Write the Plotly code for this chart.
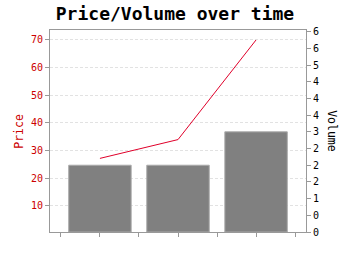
import plotly.graph_objects as go

# Data
categories = [1, 2, 3]
price = [27.2, 34.0, 70.0]
volume = [2, 2, 3]
price_ticks = [10, 20, 30, 40, 50, 60, 70]
volume_tickvals = [0, 0.5, 1, 1.5, 2, 2.5, 3, 3.5, 4, 4.5, 5, 5.5, 6]
volume_ticktext = [str(round(v)) for v in volume_tickvals]
x_tickvals = [0.5, 1, 1.5, 2, 2.5, 3, 3.5]

MONO = "DejaVu Sans Mono"
RED = "#cc0000"

fig = go.Figure()
fig.add_trace(go.Bar(
    x=categories, y=volume, yaxis="y2", width=0.8,
    marker=dict(color="#808080", line=dict(color="#aaaaaa", width=1)),
    showlegend=False, hoverinfo="skip",
))
fig.add_trace(go.Scatter(
    x=categories, y=price, yaxis="y", mode="lines",
    line=dict(color="#e0002a", width=1),
    showlegend=False, hoverinfo="skip",
))

fig.update_layout(
    width=350, height=255,
    margin=dict(l=50, r=44, t=30, b=23),
    paper_bgcolor="white", plot_bgcolor="white",
    font=dict(family=MONO, size=10, color="black"),
    title=dict(text="<b>Price/Volume over time</b>", x=0.5, xanchor="center",
               y=1 - 14 / 255, yanchor="middle",
               font=dict(family=MONO, size=18, color="black")),
    xaxis=dict(range=[0.36, 3.64], tickvals=x_tickvals, showticklabels=False,
               ticks="outside", ticklen=4, tickcolor="#999999",
               showgrid=False, zeroline=False,
               showline=True, linecolor="#999999", linewidth=1, mirror=True),
    yaxis=dict(range=[0.6, 73.6], tickvals=price_ticks, side="left",
               ticks="outside", ticklen=4, tickcolor="#999999",
               tickfont=dict(family=MONO, size=10, color=RED),
               showgrid=True, gridcolor="#e2e2e2", griddash="3px,2px", gridwidth=1,
               zeroline=False, showline=True, linecolor="#999999", linewidth=1),
    yaxis2=dict(range=[0, 6.05], tickvals=volume_tickvals, ticktext=volume_ticktext,
                overlaying="y", side="right",
                ticks="outside", ticklen=4, tickcolor="#999999",
                tickfont=dict(family=MONO, size=10, color="black"),
                showgrid=False, zeroline=False,
                showline=True, linecolor="#999999", linewidth=1),
    annotations=[
        dict(text="Price", xref="paper", yref="paper", x=-0.122, y=0.5,
             xanchor="center", yanchor="middle", textangle=-90, showarrow=False,
             font=dict(family=MONO, size=11.5, color=RED)),
        dict(text="Volume", xref="paper", yref="paper", x=1.101, y=0.5,
             xanchor="center", yanchor="middle", textangle=90, showarrow=False,
             font=dict(family=MONO, size=11.5, color="black")),
    ],
)

fig.write_html("out.html")
